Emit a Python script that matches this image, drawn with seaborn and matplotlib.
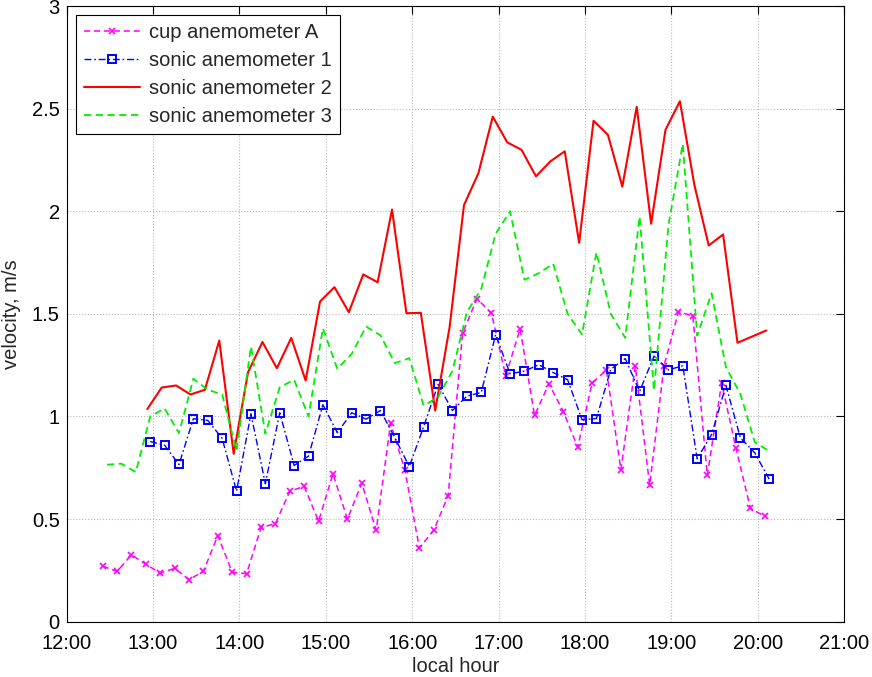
import matplotlib
matplotlib.use("Agg")
import matplotlib.pyplot as plt
import matplotlib.ticker as mticker
import seaborn as sns
import pandas as pd

# ---- data ----
cup_times = ["12:25", "12:35", "12:45", "12:55", "13:05", "13:15", "13:25", "13:35", "13:45", "13:55",
             "14:05", "14:15", "14:25", "14:35", "14:45", "14:55", "15:05", "15:15", "15:25", "15:35",
             "15:45", "15:55", "16:05", "16:15", "16:25", "16:35", "16:45", "16:55", "17:05", "17:15",
             "17:25", "17:35", "17:45", "17:55", "18:05", "18:15", "18:25", "18:35", "18:45", "18:55",
             "19:05", "19:15", "19:25", "19:35", "19:45", "19:55", "20:05"]
cup_a = [0.27, 0.245, 0.326, 0.279, 0.237, 0.26, 0.205, 0.246, 0.42, 0.24,
         0.234, 0.459, 0.478, 0.636, 0.659, 0.49, 0.721, 0.50, 0.675, 0.445,
         0.967, 0.737, 0.36, 0.445, 0.614, 1.405, 1.573, 1.505, 1.198, 1.427,
         1.005, 1.159, 1.024, 0.85, 1.162, 1.227, 0.74, 1.245, 0.665, 1.248,
         1.51, 1.49, 0.713, 1.162, 0.844, 0.552, 0.513]

sonic1_times = ["12:58", "13:08", "13:18", "13:28", "13:38", "13:48", "13:58", "14:08", "14:18", "14:28",
                "14:38", "14:48", "14:58", "15:08", "15:18", "15:28", "15:38", "15:48", "15:58", "16:08",
                "16:18", "16:28", "16:38", "16:48", "16:58", "17:08", "17:18", "17:28", "17:38", "17:48",
                "17:58", "18:08", "18:18", "18:28", "18:38", "18:48", "18:58", "19:08", "19:18", "19:28",
                "19:38", "19:48", "19:58", "20:08"]
sonic1 = [0.878, 0.860, 0.766, 0.989, 0.981, 0.893, 0.636, 1.013, 0.672, 1.018,
          0.761, 0.807, 1.057, 0.921, 1.018, 0.987, 1.029, 0.896, 0.756, 0.951,
          1.156, 1.029, 1.099, 1.117, 1.399, 1.208, 1.221, 1.252, 1.214, 1.179,
          0.984, 0.990, 1.230, 1.282, 1.122, 1.294, 1.227, 1.247, 0.794, 0.912,
          1.151, 0.896, 0.823, 0.695]

sonic2_times = ["12:56", "13:06", "13:16", "13:26", "13:36", "13:46", "13:56", "14:06", "14:16", "14:26",
                "14:36", "14:46", "14:56", "15:06", "15:16", "15:26", "15:36", "15:46", "15:56", "16:06",
                "16:16", "16:26", "16:36", "16:46", "16:56", "17:06", "17:16", "17:26", "17:36", "17:46",
                "17:56", "18:06", "18:16", "18:26", "18:36", "18:46", "18:56", "19:06", "19:16", "19:26",
                "19:36", "19:46", "19:56", "20:06"]
sonic2 = [1.036, 1.141, 1.151, 1.107, 1.130, 1.370, 0.818, 1.216, 1.363, 1.235,
          1.383, 1.175, 1.560, 1.630, 1.508, 1.692, 1.654, 2.008, 1.503, 1.505,
          1.029, 1.435, 2.030, 2.185, 2.461, 2.336, 2.299, 2.170, 2.243, 2.292,
          1.846, 2.441, 2.372, 2.120, 2.509, 1.939, 2.397, 2.536, 2.130, 1.833,
          1.887, 1.359, 1.389, 1.419]

sonic3_times = ["12:28", "12:38", "12:48", "12:58", "13:08", "13:18", "13:28", "13:38", "13:48", "13:58",
                "14:08", "14:18", "14:28", "14:38", "14:48", "14:58", "15:08", "15:18", "15:28", "15:38",
                "15:48", "15:58", "16:08", "16:18", "16:28", "16:38", "16:48", "16:58", "17:08", "17:18",
                "17:28", "17:38", "17:48", "17:58", "18:08", "18:18", "18:28", "18:38", "18:48", "18:58",
                "19:08", "19:18", "19:28", "19:38", "19:48", "19:58", "20:08"]
sonic3 = [0.765, 0.770, 0.729, 1.000, 1.039, 0.919, 1.184, 1.130, 1.107, 0.834,
          1.341, 0.916, 1.142, 1.179, 1.000, 1.430, 1.232, 1.305, 1.438, 1.395,
          1.260, 1.284, 1.053, 1.094, 1.222, 1.508, 1.622, 1.890, 2.000, 1.666,
          1.698, 1.744, 1.500, 1.399, 1.800, 1.500, 1.383, 1.974, 1.127, 1.930,
          2.328, 1.394, 1.600, 1.240, 1.110, 0.875, 0.831]

x_ticks = [12, 13, 14, 15, 16, 17, 18, 19, 20, 21]
y_ticks = [0, 0.5, 1, 1.5, 2, 2.5, 3]


def to_hours(ts):
    return [int(t.split(":")[0]) + int(t.split(":")[1]) / 60.0 for t in ts]


sns.set_theme(style="white")
plt.rcParams["font.family"] = ["Liberation Sans", "DejaVu Sans"]
plt.rcParams["font.size"] = 14.5

fig = plt.figure(figsize=(8.72, 6.77), dpi=100)
ax = fig.add_axes([66.7 / 872, 1 - 621.7 / 677, (844 - 66.7) / 872, (621.7 - 6) / 677])

series = [
    ("cup anemometer A", cup_times, cup_a,
     dict(color="#ff00ff", linestyle=(0, (4, 2.5)), linewidth=1.1),
     dict(marker="x", markersize=4.5, markeredgewidth=1.2)),
    ("sonic anemometer 1", sonic1_times, sonic1,
     dict(color="#0000ff", linestyle=(0, (5, 2, 1.2, 2)), linewidth=1.0),
     dict(marker="s", markersize=5.5, markerfacecolor="none", markeredgewidth=1.4)),
    ("sonic anemometer 2", sonic2_times, sonic2,
     dict(color="#ff0000", linestyle="-", linewidth=1.5), None),
    ("sonic anemometer 3", sonic3_times, sonic3,
     dict(color="#00ee00", linestyle=(0, (4, 2.5)), linewidth=1.3), None),
]

for label, ts, vals, kw, mk in series:
    df = pd.DataFrame({"hour": to_hours(ts), "v": vals})
    sns.lineplot(data=df, x="hour", y="v", ax=ax, label=label, estimator=None, sort=False, **kw)
    line = ax.get_lines()[-1]
    if mk:
        line.set_marker(mk["marker"])
        line.set_markersize(mk["markersize"])
        line.set_markeredgewidth(mk["markeredgewidth"])
        line.set_markeredgecolor(kw["color"])
        line.set_markerfacecolor(mk.get("markerfacecolor", kw["color"]))

ax.set_xlim(12, 21)
ax.set_ylim(0, 3)
ax.set_xticks(x_ticks)
ax.set_yticks(y_ticks)
ax.xaxis.set_major_formatter(mticker.FuncFormatter(lambda v, p: "%d:00" % int(round(v))))
ax.yaxis.set_major_formatter(mticker.FuncFormatter(lambda v, p: ("%g" % v)))
ax.tick_params(direction="in", length=6, width=0.8, top=True, right=True,
               labelsize=14.5, colors="black")
ax.tick_params(axis="x", pad=9)
ax.tick_params(axis="y", pad=5)
ax.grid(True, linestyle=":", color="#b8b8b8", linewidth=0.8)
for s in ax.spines.values():
    s.set_color("black")
    s.set_linewidth(0.8)

ax.set_xlabel("local hour", fontsize=14.5, labelpad=3)
ax.set_ylabel("velocity, m/s", fontsize=14.5, labelpad=8)

leg = ax.legend(loc="upper left", fontsize=14.5, frameon=True, fancybox=False,
                edgecolor="black", framealpha=1, handlelength=2.8, handletextpad=0.45,
                labelspacing=0.45, borderaxespad=0.45, numpoints=1, borderpad=0.4)
leg.get_frame().set_linewidth(0.8)

fig.savefig("out.png", dpi=100)
